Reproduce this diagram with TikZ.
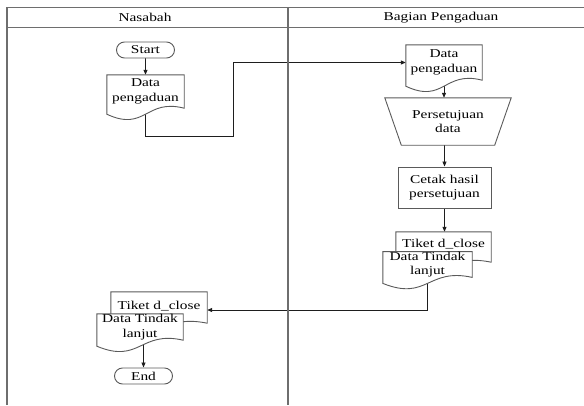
\documentclass[tikz,border=0pt]{standalone}
\usepackage{fontspec}
\setmainfont[FakeStretch=1.28]{Liberation Serif}
\usepackage{tikz}
\usetikzlibrary{arrows.meta,positioning,backgrounds,calc}
\definecolor{laneGray}{HTML}{6E6E6E}
\definecolor{shapeGray}{HTML}{5A5A5A}
\definecolor{flowBlack}{HTML}{1E1E1E}
\newcommand{\docoutline}[2]{%
  \draw[shapeline,fill=white] (#1.north west) -- (#1.north east) -- ($(#1.south east)+(0,#2)$)
    .. controls ($(#1.south)+(0,#2-10)$) and ($(#1.south)+(0,#2+24)$) .. ($(#1.south west)+(0,#2+6)$) -- cycle;}

\begin{document}
\begin{tikzpicture}[x=1pt,y=-1pt,
	lane/.style={draw=laneGray,line width=1.1pt},
	shapeline/.style={draw=shapeGray,line width=0.9pt},
	txt/.style={font=\fontsize{12}{14.5}\selectfont,align=center,inner sep=0pt},
	terminal/.style={txt,shapeline,fill=white,rounded corners=8pt,minimum width=58pt,minimum height=16pt},
	flow/.style={draw=flowBlack,line width=0.8pt,-{Triangle[length=5pt,width=4pt]}}]
	\useasboundingbox (0,0) rectangle (584,405);
	\draw[lane] (7,405) -- (7,7.5) -- (584,7.5);
	\draw[lane] (7,27.5) -- (584,27.5);
	\draw[lane] (288,7.5) -- (288,405);
	\node[txt] (hNasabah) at (145,17.5) {Nasabah};
	\node[txt] (hBagian) at (441,17.5) {Bagian Pengaduan};
	
	\node[terminal] (mulai) at (145.5,50) {Start};
	\node[txt,minimum width=77pt,minimum height=33pt] (dataAdu) at (145.5,91.5) {Data\\pengaduan};
	\node[txt,minimum width=76pt,minimum height=35pt] (dataAduB) at (444,62.5) {Data\\pengaduan};
	\node[txt,minimum width=126pt,minimum height=47pt] (setuju) at (448,121.5) {Persetujuan\\data};
	\node[txt,shapeline,fill=white,minimum width=93pt,minimum height=41pt] (cetak) at (444.5,187.5) {Cetak hasil\\persetujuan};
	\node[txt,minimum width=95pt,minimum height=24pt] (tiketB) at (443.5,244) {Tiket d\_close};
	\node[txt,minimum width=89pt,minimum height=25pt] (tindakB) at (427.5,264.5) {Data Tindak\\lanjut};
	\node[txt,minimum width=96pt,minimum height=28pt] (tiketA) at (159,306) {Tiket d\_close};
	\node[txt,minimum width=86pt,minimum height=26pt] (tindakA) at (140,327) {Data Tindak\\lanjut};
	\node[terminal] (selesai) at (143.5,376) {End};
	\coordinate (belok) at (233,136);
	
	\begin{scope}[on background layer]
		\draw[flow] (mulai.south) -- (mulai.south |- dataAdu.north);
		\draw[flow] (dataAdu.south) |- (belok) |- (dataAduB.west);
		\draw[flow] (dataAduB.south) -- (dataAduB.south |- setuju.north);
		\draw[flow] (cetak.north |- setuju.south) -- (cetak.north);
		\draw[flow] (cetak.south) -- (cetak.south |- tiketB.north);
		\draw[flow] (tindakB.south) |- ([yshift=-4pt]tiketA.east);
		\draw[flow] (tindakA.south -| selesai.north) -- (selesai.north);
		\foreach \d/\k in {dataAdu/0,dataAduB/0,tiketB/6,tindakB/0,tiketA/3,tindakA/0}{
			\docoutline{\d}{\k}
		}
		\draw[shapeline] (setuju.north west) -- (setuju.north east) -- ([xshift=-16.5pt]setuju.south east)
			-- ([xshift=16.5pt]setuju.south west) -- cycle;
	\end{scope}
\end{tikzpicture}
\end{document}
